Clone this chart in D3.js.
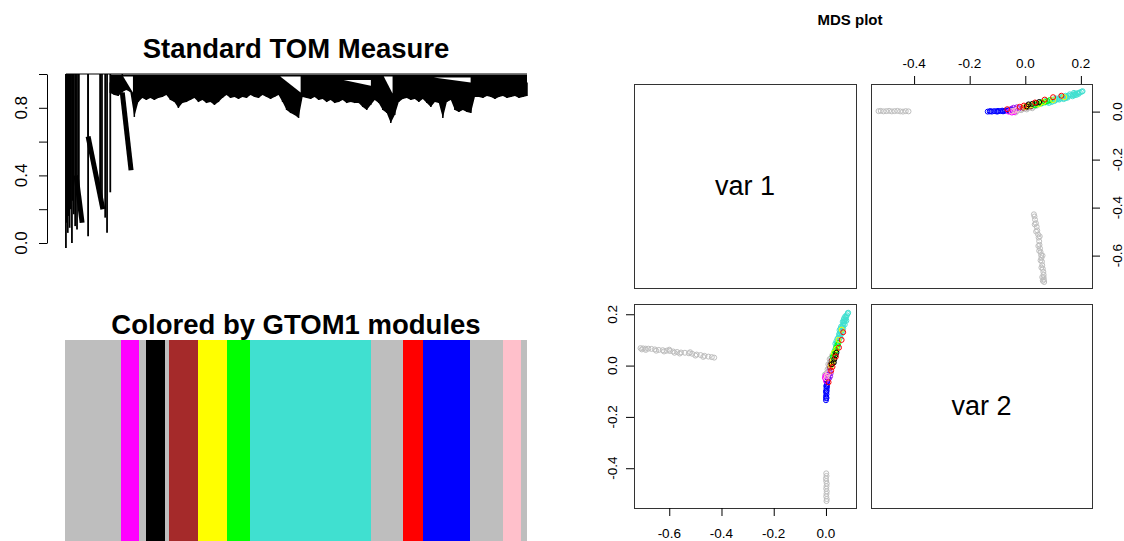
<!DOCTYPE html>
<html lang="en">
<head>
<meta charset="utf-8">
<title>TOM dendrogram and MDS plot</title>
<script src="https://cdn.jsdelivr.net/npm/d3@7"></script>
<style>
body { margin: 0; background: #fff; }
text { font-family: "Liberation Sans", Arial, sans-serif; fill: #000; }
</style>
</head>
<body>
<script>
var width = 1124, height = 541;

// ---- dendrogram + module colour bar (leaf index 0..1000) ----
var leafCount = 1000;
var moduleColors = ["#BEBEBE", "#FF00FF", "#BEBEBE", "#000000", "#BEBEBE", "#A52A2A", "#FFFF00",
    "#00FF00", "#40E0D0", "#BEBEBE", "#FF0000", "#0000FF", "#BEBEBE", "#FFC0CB", "#BEBEBE"];
var moduleSizes = [121, 39, 15, 41, 9, 63, 63, 50, 262, 69, 43, 102, 72, 39, 12];

// lower edge of the dense block of branches, read left to right (leaf 98 .. 1000)
var edgeHeights = [0.888, 0.876, 0.870, 0.893, 0.905, 0.893, 0.746, 0.834, 0.858, 0.846,
    0.858, 0.846, 0.858, 0.864, 0.876, 0.846, 0.834, 0.799, 0.828, 0.834,
    0.846, 0.858, 0.834, 0.846, 0.828, 0.834, 0.817, 0.834, 0.858, 0.876,
    0.858, 0.864, 0.852, 0.864, 0.858, 0.876, 0.864, 0.858, 0.876, 0.864,
    0.852, 0.864, 0.876, 0.834, 0.787, 0.769, 0.757, 0.740, 0.864, 0.858,
    0.852, 0.864, 0.846, 0.852, 0.834, 0.846, 0.828, 0.834, 0.846, 0.828,
    0.834, 0.828, 0.828, 0.805, 0.787, 0.817, 0.846, 0.828, 0.787, 0.769,
    0.710, 0.757, 0.834, 0.852, 0.858, 0.846, 0.852, 0.834, 0.852, 0.828,
    0.805, 0.834, 0.828, 0.740, 0.834, 0.846, 0.787, 0.775, 0.787, 0.775,
    0.769, 0.864, 0.864, 0.858, 0.870, 0.864, 0.852, 0.864, 0.870, 0.858,
    0.864, 0.870, 0.858, 0.864, 0.870];
var edgeRange = [98, 1000];

// single deep branches on the left: [leaf, height of leaf end]
var deepLines = [[2, -0.03], [4, 0.12], [6, 0.06], [8, 0.16], [10, 0.09], [12, 0.20],
    [15, 0.00], [17, 0.25], [19, 0.17], [22, 0.10], [26, 0.08], [30, 0.28],
    [50, 0.04], [76, 0.25], [80, 0.21], [87, 0.15], [91, 0.06], [98, 0.30]];
// chained clusters: [leaf start, height start, leaf end, height end]
var chainBands = [[24, 0.40, 37, 0.12], [50, 0.63, 82, 0.20], [124, 0.89, 143, 0.43]];
// white gaps under top merges: [leaf left, leaf right, height top, height bottom]
var notches = [[126, 147, 0.985, 0.89], [466, 510, 0.985, 0.89], [603, 662, 0.965, 0.93],
    [690, 709, 0.985, 0.885], [798, 878, 0.98, 0.95]];

var dendroTicks = [0, 0.2, 0.4, 0.6, 0.8, 1.0];
var dendroTickLabels = ["0.0", "", "0.4", "", "0.8", ""];

// ---- MDS coordinates per module: [var1, var2] ----
var var1Limits = [-0.735, 0.115];
var var2Limits = [-0.555, 0.24];
var mdsTicks1 = [-0.6, -0.4, -0.2, 0.0];
var mdsTicks2 = [-0.4, -0.2, 0.0, 0.2];

var ptsGrey = [[-0.710, 0.068], [-0.700, 0.067], [-0.690, 0.066], [-0.680, 0.066], [-0.668, 0.065],
    [-0.655, 0.063], [-0.640, 0.061], [-0.625, 0.060], [-0.610, 0.058], [-0.598, 0.057],
    [-0.585, 0.055], [-0.570, 0.053], [-0.555, 0.051], [-0.540, 0.050], [-0.525, 0.048],
    [-0.512, 0.046], [-0.495, 0.043], [-0.480, 0.041], [-0.465, 0.038], [-0.450, 0.035],
    [-0.437, 0.033], [-0.428, 0.031], [-0.690, 0.061], [-0.620, 0.055], [-0.560, 0.047],
    [-0.600, 0.062], [-0.520, 0.052], [-0.470, 0.034], [-0.705, 0.063], [-0.650, 0.058],
    [-0.580, 0.050], [-0.500, 0.039],
    [0.001, -0.420], [0.002, -0.430], [0.000, -0.440], [0.001, -0.450], [0.003, -0.460],
    [0.002, -0.470], [0.001, -0.480], [0.003, -0.490], [0.002, -0.500], [0.001, -0.510],
    [0.003, -0.520], [0.002, -0.528],
    [0.000, -0.055], [0.003, -0.045], [0.005, -0.040], [0.002, -0.030], [0.008, -0.025],
    [0.006, -0.015], [0.010, -0.010], [0.012, -0.002], [0.009, 0.005], [0.015, 0.010],
    [0.018, 0.018], [0.014, 0.025], [0.020, 0.030], [0.024, 0.040], [-0.004, -0.035],
    [0.016, -0.005]];
var ptsTurquoise = [[0.020, 0.010], [0.024, 0.025], [0.027, 0.035], [0.030, 0.045], [0.032, 0.055],
    [0.035, 0.062], [0.038, 0.072], [0.040, 0.080], [0.043, 0.090], [0.046, 0.098],
    [0.048, 0.108], [0.051, 0.115], [0.054, 0.125], [0.056, 0.132], [0.059, 0.140],
    [0.062, 0.148], [0.065, 0.156], [0.068, 0.165], [0.071, 0.172], [0.074, 0.180],
    [0.077, 0.188], [0.080, 0.196], [0.083, 0.203], [0.085, 0.206], [0.036, 0.085],
    [0.050, 0.100], [0.060, 0.125], [0.066, 0.145], [0.072, 0.160], [0.078, 0.175],
    [0.042, 0.060], [0.030, 0.030], [0.055, 0.110], [0.062, 0.135], [0.070, 0.185],
    [0.046, 0.075], [0.058, 0.152], [0.052, 0.138], [0.064, 0.170], [0.074, 0.192],
    [0.044, 0.105], [0.050, 0.122], [0.056, 0.145], [0.068, 0.178], [0.040, 0.095]];
var ptsBlue = [[0.000, -0.135], [0.001, -0.128], [0.000, -0.120], [0.002, -0.112], [0.001, -0.105],
    [0.003, -0.098], [0.002, -0.090], [0.004, -0.083], [0.003, -0.076], [0.005, -0.070],
    [0.004, -0.063], [0.006, -0.057], [0.006, -0.050], [0.008, -0.046], [0.001, -0.080],
    [0.002, -0.125], [0.005, -0.060], [0.000, -0.100]];
var ptsPurple = [[0.012, -0.050], [0.016, -0.042], [0.010, -0.035], [0.018, -0.030], [0.014, -0.022]];
var ptsMagenta = [[-0.004, -0.048], [-0.002, -0.040], [0.000, -0.060]];
var ptsPink = [[0.004, -0.040], [0.008, -0.030], [0.002, -0.050]];
var ptsBrown = [[0.018, 0.005], [0.022, 0.020], [0.026, 0.010], [0.016, -0.008]];
var ptsGreen = [[0.026, 0.035], [0.030, 0.042], [0.035, 0.055], [0.040, 0.070], [0.044, 0.080],
    [0.038, 0.060], [0.048, 0.088]];
var ptsYellow = [[0.020, 0.000], [0.025, 0.012], [0.030, 0.050], [0.034, 0.040], [0.040, 0.065],
    [0.048, 0.100], [0.060, 0.140], [0.028, 0.022]];
var ptsBlack = [[0.022, 0.005], [0.032, 0.025], [0.036, 0.040], [0.040, 0.050], [0.030, 0.012]];
var ptsRed = [[0.010, -0.065], [0.020, -0.020], [0.038, 0.035], [0.050, 0.070], [0.060, 0.100],
    [0.066, 0.130], [0.025, -0.005]];

var pointGroups = [
    {color: "#BEBEBE", pts: ptsGrey},
    {color: "#40E0D0", pts: ptsTurquoise},
    {color: "#0000FF", pts: ptsBlue},
    {color: "#A020F0", pts: ptsPurple},
    {color: "#FF00FF", pts: ptsMagenta},
    {color: "#FFC0CB", pts: ptsPink},
    {color: "#A52A2A", pts: ptsBrown},
    {color: "#00FF00", pts: ptsGreen},
    {color: "#FFFF00", pts: ptsYellow},
    {color: "#000000", pts: ptsBlack},
    {color: "#FF0000", pts: ptsRed}
];

var svg = d3.select("body").append("svg")
    .attr("width", width)
    .attr("height", height);

function fmt(v) { return v.toFixed(1); }

// ================= left: dendrogram =================
var xLeaf = d3.scaleLinear().domain([0, leafCount]).range([65, 527]);
var yH = d3.scaleLinear().domain([0, 1]).range([243, 74]);

svg.append("text")
    .attr("x", 296).attr("y", 58)
    .attr("text-anchor", "middle")
    .attr("font-size", 27.5).attr("font-weight", "bold")
    .text("Standard TOM Measure");

var dendro = svg.append("g");

// top merge line
dendro.append("line")
    .attr("x1", xLeaf(2)).attr("x2", xLeaf(leafCount))
    .attr("y1", yH(1)).attr("y2", yH(1))
    .attr("stroke", "#555").attr("stroke-width", 1.5);

// dense block
var binLeaf = d3.scaleLinear().domain([0, edgeHeights.length - 1]).range(edgeRange);
var area = d3.area()
    .x(function (d, i) { return xLeaf(binLeaf(i)); })
    .y0(yH(0.995))
    .y1(function (d) { return yH(d); })
    .curve(d3.curveLinear);
dendro.append("path")
    .attr("d", area(edgeHeights))
    .attr("fill", "#000");
// thin hanging leaves along the lower edge
dendro.selectAll("line.leaf")
    .data(edgeHeights)
    .enter()
    .append("line")
    .attr("class", "leaf")
    .attr("x1", function (d, i) { return xLeaf(binLeaf(i)); })
    .attr("x2", function (d, i) { return xLeaf(binLeaf(i)); })
    .attr("y1", yH(0.95))
    .attr("y2", function (d) { return yH(d); })
    .attr("stroke", "#000")
    .attr("stroke-width", 1.5);

// white notches
dendro.selectAll("path.notch")
    .data(notches)
    .enter()
    .append("path")
    .attr("class", "notch")
    .attr("d", function (d) {
        return "M" + xLeaf(d[0]) + "," + yH(d[2]) +
            "L" + xLeaf(d[1]) + "," + yH(d[2]) +
            "L" + xLeaf(d[1]) + "," + yH(d[3]) + "Z";
    })
    .attr("fill", "#fff");

// deep branches
dendro.selectAll("line.deep")
    .data(deepLines)
    .enter()
    .append("line")
    .attr("class", "deep")
    .attr("x1", function (d) { return xLeaf(d[0]); })
    .attr("x2", function (d) { return xLeaf(d[0]); })
    .attr("y1", yH(1))
    .attr("y2", function (d) { return yH(d[1]); })
    .attr("stroke", "#000")
    .attr("stroke-width", 1.8);

// chained clusters
dendro.selectAll("line.chain")
    .data(chainBands)
    .enter()
    .append("line")
    .attr("class", "chain")
    .attr("x1", function (d) { return xLeaf(d[0]); })
    .attr("y1", function (d) { return yH(d[1]); })
    .attr("x2", function (d) { return xLeaf(d[2]); })
    .attr("y2", function (d) { return yH(d[3]); })
    .attr("stroke", "#000")
    .attr("stroke-width", 5);
dendro.selectAll("line.chainTop")
    .data(chainBands)
    .enter()
    .append("line")
    .attr("class", "chainTop")
    .attr("x1", function (d) { return xLeaf(d[0]); })
    .attr("x2", function (d) { return xLeaf(d[0]); })
    .attr("y1", yH(1))
    .attr("y2", function (d) { return yH(d[1]); })
    .attr("stroke", "#000")
    .attr("stroke-width", 1.5);

// y axis
var yAxis = d3.axisLeft(yH).tickValues(dendroTicks).tickSize(8).tickSizeOuter(0).tickFormat("");
svg.append("g")
    .attr("transform", "translate(47,0)")
    .call(yAxis)
    .call(function (g) { g.selectAll("path, line").attr("stroke", "#000"); });
svg.selectAll("text.dlab")
    .data(dendroTicks)
    .enter()
    .append("text")
    .attr("class", "dlab")
    .attr("transform", function (d) { return "translate(21," + yH(d) + ") rotate(-90)"; })
    .attr("text-anchor", "middle")
    .attr("dominant-baseline", "central")
    .attr("font-size", 17)
    .text(function (d, i) { return dendroTickLabels[i]; });

// module colour bar
svg.append("text")
    .attr("x", 296).attr("y", 334)
    .attr("text-anchor", "middle")
    .attr("font-size", 27.5).attr("font-weight", "bold")
    .text("Colored by GTOM1 modules");

var starts = d3.cumsum([0].concat(moduleSizes));
svg.selectAll("rect.module")
    .data(moduleSizes)
    .enter()
    .append("rect")
    .attr("class", "module")
    .attr("x", function (d, i) { return xLeaf(starts[i]); })
    .attr("width", function (d, i) { return xLeaf(starts[i] + d) - xLeaf(starts[i]); })
    .attr("y", 340)
    .attr("height", 201)
    .attr("fill", function (d, i) { return moduleColors[i]; })
    .attr("shape-rendering", "crispEdges");

// ================= right: MDS pairs plot =================
svg.append("text")
    .attr("x", 850).attr("y", 25)
    .attr("text-anchor", "middle")
    .attr("font-size", 15).attr("font-weight", "bold")
    .text("MDS plot");

var colX = [[634, 856], [871, 1092]];
var rowY = [[84, 288], [304, 508]];

// top-right: x = var2, y = var1 ; bottom-left: x = var1, y = var2
var x2TR = d3.scaleLinear().domain(var2Limits).range(colX[1]);
var y1TR = d3.scaleLinear().domain(var1Limits).range([rowY[0][1], rowY[0][0]]);
var x1BL = d3.scaleLinear().domain(var1Limits).range(colX[0]);
var y2BL = d3.scaleLinear().domain(var2Limits).range([rowY[1][1], rowY[1][0]]);

var panels = [[0, 0], [1, 0], [0, 1], [1, 1]];
svg.selectAll("rect.panel")
    .data(panels)
    .enter()
    .append("rect")
    .attr("class", "panel")
    .attr("x", function (d) { return colX[d[0]][0] + 0.5; })
    .attr("y", function (d) { return rowY[d[1]][0] + 0.5; })
    .attr("width", function (d) { return colX[d[0]][1] - colX[d[0]][0]; })
    .attr("height", function (d) { return rowY[d[1]][1] - rowY[d[1]][0]; })
    .attr("fill", "none")
    .attr("stroke", "#333")
    .attr("stroke-width", 1);

svg.append("text")
    .attr("x", (colX[0][0] + colX[0][1]) / 2).attr("y", (rowY[0][0] + rowY[0][1]) / 2)
    .attr("text-anchor", "middle").attr("dominant-baseline", "central")
    .attr("font-size", 27).text("var 1");
svg.append("text")
    .attr("x", (colX[1][0] + colX[1][1]) / 2).attr("y", (rowY[1][0] + rowY[1][1]) / 2)
    .attr("text-anchor", "middle").attr("dominant-baseline", "central")
    .attr("font-size", 27).text("var 2");

// points
var tr = svg.append("g"), bl = svg.append("g");
pointGroups.forEach(function (grp) {
    tr.selectAll(null)
        .data(grp.pts)
        .enter()
        .append("circle")
        .attr("cx", function (d) { return x2TR(d[1]); })
        .attr("cy", function (d) { return y1TR(d[0]); })
        .attr("r", 2.5)
        .attr("fill", "none")
        .attr("stroke", grp.color)
        .attr("stroke-width", 1);
    bl.selectAll(null)
        .data(grp.pts)
        .enter()
        .append("circle")
        .attr("cx", function (d) { return x1BL(d[0]); })
        .attr("cy", function (d) { return y2BL(d[1]); })
        .attr("r", 2.5)
        .attr("fill", "none")
        .attr("stroke", grp.color)
        .attr("stroke-width", 1);
});

function styleAxis(g) {
    g.select(".domain").remove();
    g.selectAll("line").attr("stroke", "#000");
}

// top axis of top-right panel (var2)
svg.append("g")
    .attr("transform", "translate(0," + rowY[0][0] + ")")
    .call(d3.axisTop(x2TR).tickValues(mdsTicks2).tickSize(8).tickFormat(""))
    .call(styleAxis);
svg.selectAll("text.t2")
    .data(mdsTicks2)
    .enter()
    .append("text")
    .attr("class", "t2")
    .attr("x", function (d) { return x2TR(d); })
    .attr("y", 63)
    .attr("text-anchor", "middle").attr("dominant-baseline", "central")
    .attr("font-size", 13.5)
    .text(fmt);

// right axis of top-right panel (var1)
svg.append("g")
    .attr("transform", "translate(" + colX[1][1] + ",0)")
    .call(d3.axisRight(y1TR).tickValues(mdsTicks1).tickSize(8).tickFormat(""))
    .call(styleAxis);
svg.selectAll("text.t1r")
    .data(mdsTicks1)
    .enter()
    .append("text")
    .attr("class", "t1r")
    .attr("transform", function (d) { return "translate(1117," + y1TR(d) + ") rotate(-90)"; })
    .attr("text-anchor", "middle").attr("dominant-baseline", "central")
    .attr("font-size", 13.5)
    .text(fmt);

// left axis of bottom-left panel (var2)
svg.append("g")
    .attr("transform", "translate(" + colX[0][0] + ",0)")
    .call(d3.axisLeft(y2BL).tickValues(mdsTicks2).tickSize(8).tickFormat(""))
    .call(styleAxis);
svg.selectAll("text.t2l")
    .data(mdsTicks2)
    .enter()
    .append("text")
    .attr("class", "t2l")
    .attr("transform", function (d) { return "translate(612," + y2BL(d) + ") rotate(-90)"; })
    .attr("text-anchor", "middle").attr("dominant-baseline", "central")
    .attr("font-size", 13.5)
    .text(fmt);

// bottom axis of bottom-left panel (var1)
svg.append("g")
    .attr("transform", "translate(0," + rowY[1][1] + ")")
    .call(d3.axisBottom(x1BL).tickValues(mdsTicks1).tickSize(8).tickFormat(""))
    .call(styleAxis);
svg.selectAll("text.t1b")
    .data(mdsTicks1)
    .enter()
    .append("text")
    .attr("class", "t1b")
    .attr("x", function (d) { return x1BL(d); })
    .attr("y", 533)
    .attr("text-anchor", "middle").attr("dominant-baseline", "central")
    .attr("font-size", 13.5)
    .text(fmt);
</script>
</body>
</html>
